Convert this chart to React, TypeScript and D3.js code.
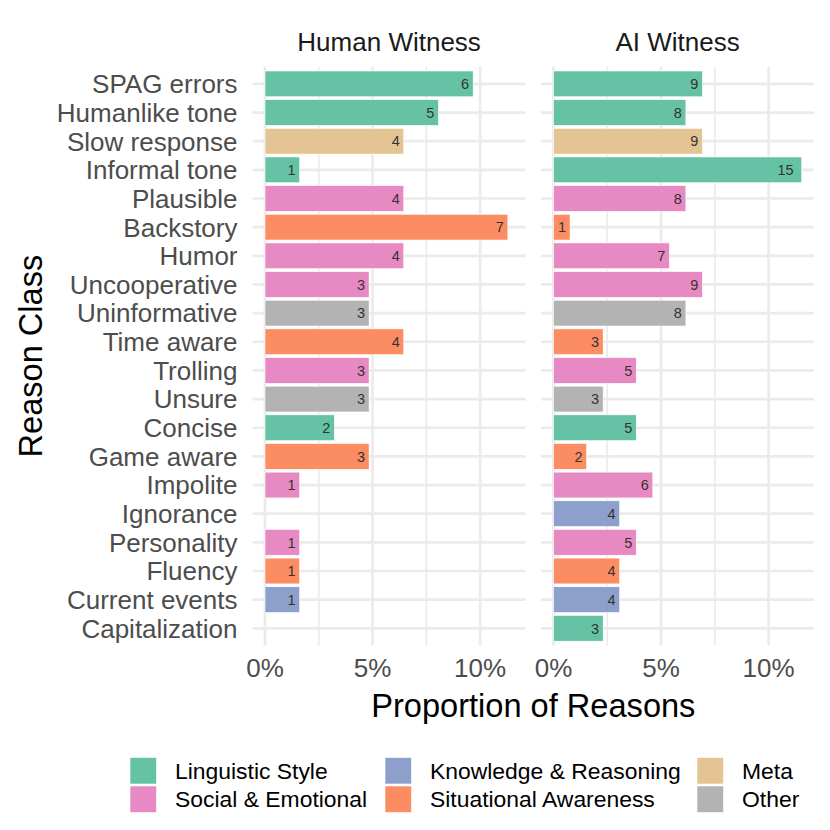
import { useEffect, useRef } from 'react';
import * as d3 from 'd3';

// reasons, top to bottom
const reasons = [
  'SPAG errors', 'Humanlike tone', 'Slow response', 'Informal tone', 'Plausible',
  'Backstory', 'Humor', 'Uncooperative', 'Uninformative', 'Time aware',
  'Trolling', 'Unsure', 'Concise', 'Game aware', 'Impolite',
  'Ignorance', 'Personality', 'Fluency', 'Current events', 'Capitalization',
];
const reasonClass = [
  'Linguistic Style', 'Linguistic Style', 'Meta', 'Linguistic Style', 'Social & Emotional',
  'Situational Awareness', 'Social & Emotional', 'Social & Emotional', 'Other', 'Situational Awareness',
  'Social & Emotional', 'Other', 'Linguistic Style', 'Situational Awareness', 'Social & Emotional',
  'Knowledge & Reasoning', 'Social & Emotional', 'Situational Awareness', 'Knowledge & Reasoning', 'Linguistic Style',
];
const humanCounts: (number | null)[] = [6, 5, 4, 1, 4, 7, 4, 3, 3, 4, 3, 3, 2, 3, 1, null, 1, 1, 1, null];
const aiCounts: (number | null)[] = [9, 8, 9, 15, 8, 1, 7, 9, 8, 3, 5, 3, 5, 2, 6, 4, 5, 4, 4, 3];
const humanTotal = 62;
const aiTotal = 130;

const panels = ['Human Witness', 'AI Witness'];
const classNames = [
  'Linguistic Style', 'Social & Emotional', 'Knowledge & Reasoning',
  'Situational Awareness', 'Meta', 'Other',
];
const classColors = ['#66C2A5', '#E78AC3', '#8DA0CB', '#FC8D62', '#E5C494', '#B3B3B3'];
const majorTicks = [0, 0.05, 0.1];
const minorTicks = [0.025, 0.075];

const FONT = '"Liberation Sans", Arial, Helvetica, sans-serif';

const App = () => {
  const svgRef = useRef<SVGSVGElement>(null);
  const width = 830;
  const height = 830;

  useEffect(() => {
    if (!svgRef.current) return;
    const svg = d3.select(svgRef.current);
    svg.selectAll('*').remove();

    const panelLeft = 252.6;
    const panelWidth = 273;
    const panelGap = 15.5;
    const top = 66.7;
    const bottom = 645.5;

    const rows = reasons.map((r, i) => ({
      reason: r,
      cls: reasonClass[i],
      counts: [humanCounts[i], aiCounts[i]],
    }));
    const totals = [humanTotal, aiTotal];

    const maxProp = d3.max(rows.flatMap(d => d.counts.map((c, p) => (c ?? 0) / totals[p]))) || 0;

    const color = d3.scaleOrdinal<string, string>().domain(classNames).range(classColors);

    const y = d3.scalePoint<string>()
      .domain(reasons)
      .range([top, bottom])
      .padding(0.6);
    const barH = y.step() * 0.9;

    const labelSize = 14.5;

    panels.forEach((panel, p) => {
      const x0 = panelLeft + p * (panelWidth + panelGap);
      const x = d3.scaleLinear()
        .domain([-0.05 * maxProp, 1.05 * maxProp])
        .range([x0, x0 + panelWidth]);

      const g = svg.append('g');

      // grid
      g.selectAll('.minor')
        .data(minorTicks)
        .join('line')
        .attr('x1', d => x(d)).attr('x2', d => x(d))
        .attr('y1', top).attr('y2', bottom)
        .attr('stroke', '#EBEBEB')
        .attr('stroke-width', 1.7);
      g.selectAll('.major')
        .data(majorTicks)
        .join('line')
        .attr('x1', d => x(d)).attr('x2', d => x(d))
        .attr('y1', top).attr('y2', bottom)
        .attr('stroke', '#EBEBEB')
        .attr('stroke-width', 2.7);
      g.selectAll('.hgrid')
        .data(reasons)
        .join('line')
        .attr('x1', x0).attr('x2', x0 + panelWidth)
        .attr('y1', d => y(d)!).attr('y2', d => y(d)!)
        .attr('stroke', '#EBEBEB')
        .attr('stroke-width', 2.7);

      const data = rows.filter(d => d.counts[p] != null);

      g.selectAll('.bar')
        .data(data)
        .join('rect')
        .attr('x', x(0))
        .attr('y', d => y(d.reason)! - barH / 2)
        .attr('width', d => x(d.counts[p]! / totals[p]) - x(0))
        .attr('height', barH)
        .attr('fill', d => color(d.cls))
        .attr('stroke', 'white')
        .attr('stroke-width', 0.6);

      g.selectAll('.lab')
        .data(data)
        .join('text')
        .attr('x', d => {
          const w = String(d.counts[p]).length * 0.556 * labelSize;
          return x(d.counts[p]! / totals[p]) - 0.5 * w;
        })
        .attr('y', d => y(d.reason)!)
        .attr('dy', '0.36em')
        .attr('text-anchor', 'end')
        .style('font-family', FONT)
        .style('font-size', `${labelSize}px`)
        .style('fill', '#333333')
        .text(d => String(d.counts[p]));

      // strip title
      g.append('text')
        .attr('x', x0 + panelWidth / 2)
        .attr('y', 51)
        .attr('text-anchor', 'middle')
        .style('font-family', FONT)
        .style('font-size', '26px')
        .style('fill', '#1A1A1A')
        .text(panel);

      // x tick labels
      g.selectAll('.xtick')
        .data(majorTicks)
        .join('text')
        .attr('x', d => x(d))
        .attr('y', 677)
        .attr('text-anchor', 'middle')
        .style('font-family', FONT)
        .style('font-size', '26px')
        .style('fill', '#4D4D4D')
        .text(d => d3.format('.0%')(d));
    });

    // y tick labels
    svg.append('g')
      .selectAll('text')
      .data(reasons)
      .join('text')
      .attr('x', 237.5)
      .attr('y', d => y(d)!)
      .attr('dy', '0.36em')
      .attr('text-anchor', 'end')
      .style('font-family', FONT)
      .style('font-size', '26px')
      .style('fill', '#4D4D4D')
      .text(d => d);

    // axis titles
    svg.append('text')
      .attr('x', panelLeft + panelWidth + panelGap / 2)
      .attr('y', 717)
      .attr('text-anchor', 'middle')
      .style('font-family', FONT)
      .style('font-size', '32.6px')
      .style('fill', '#000')
      .text('Proportion of Reasons');

    svg.append('text')
      .attr('transform', `translate(42,${(top + bottom) / 2}) rotate(-90)`)
      .attr('text-anchor', 'middle')
      .style('font-family', FONT)
      .style('font-size', '32.6px')
      .style('fill', '#000')
      .text('Reason Class');

    // legend (filled column-wise, 2 rows)
    const legendCols = [130, 385, 697];
    const legendTop = 757.5;
    const key = 26.5;
    const keyStep = 28.5;
    const legend = svg.append('g')
      .selectAll('g')
      .data(classNames)
      .join('g')
      .attr('transform', (_, i) => `translate(${legendCols[Math.floor(i / 2)]},${legendTop + (i % 2) * keyStep})`);
    legend.append('rect')
      .attr('width', key)
      .attr('height', key)
      .attr('fill', d => color(d))
      .attr('stroke', 'white')
      .attr('stroke-width', 0.6);
    legend.append('text')
      .attr('x', 45)
      .attr('y', key / 2)
      .attr('dy', '0.36em')
      .style('font-family', FONT)
      .style('font-size', '22.9px')
      .style('fill', '#000')
      .text(d => d);
  }, []);

  return (
    <svg
      ref={svgRef}
      width={width}
      height={height}
      style={{ position: 'absolute', left: 0, top: 0, background: 'white' }}
    />
  );
};

export default App;
